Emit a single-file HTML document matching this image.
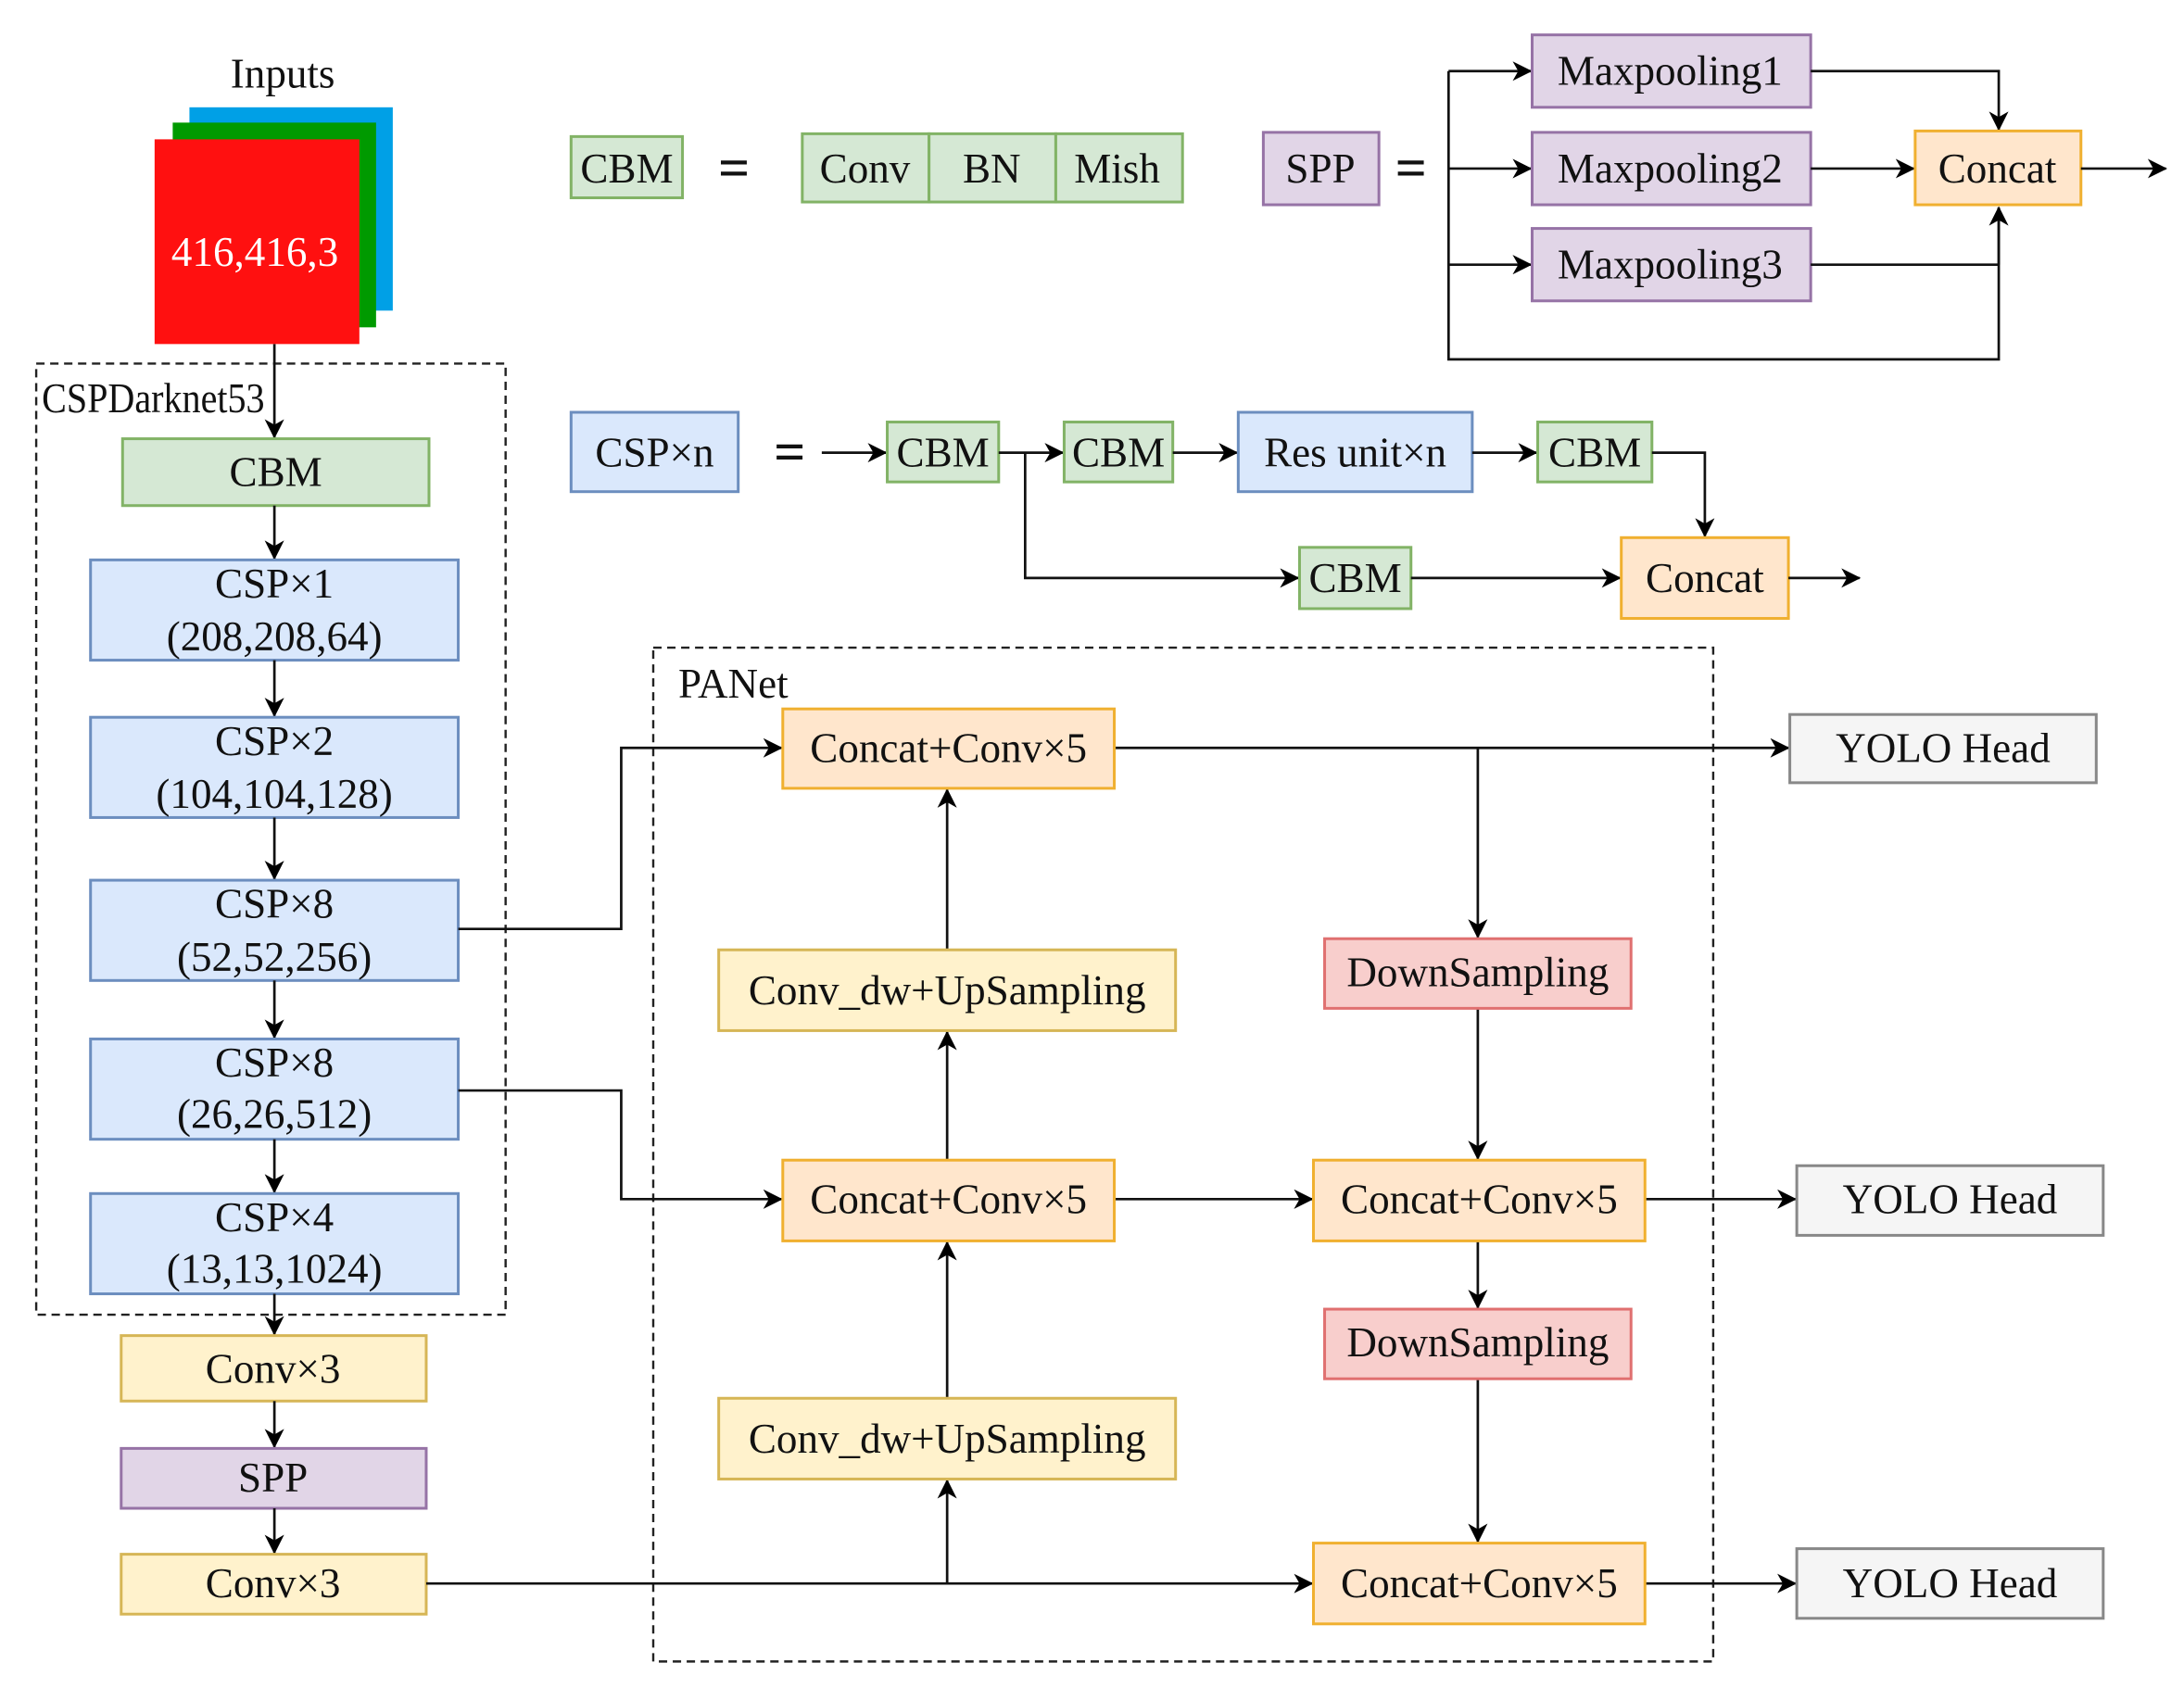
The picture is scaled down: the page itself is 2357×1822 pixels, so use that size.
<!DOCTYPE html>
<html><head><meta charset="utf-8"><style>html,body{margin:0;padding:0;background:#fff}svg{display:block}</style></head><body>
<svg width="2357" height="1822" viewBox="0 0 1568 1212" xmlns="http://www.w3.org/2000/svg" font-family="Liberation Serif, serif">
<defs><marker id="a" markerWidth="14" markerHeight="14" refX="13" refY="7" orient="auto" markerUnits="userSpaceOnUse"><path d="M0,0 L14,7 L0,14 L4,7 z" fill="#000"/></marker></defs>
<style>
.g{fill:#d5e8d4;stroke:#82b366;stroke-width:2}
.b{fill:#dae8fc;stroke:#6c8ebf;stroke-width:2}
.y{fill:#fff2cc;stroke:#d6b656;stroke-width:2}
.p{fill:#e1d5e7;stroke:#9673a6;stroke-width:2}
.o{fill:#ffe6cc;stroke:#f0b030;stroke-width:2}
.r{fill:#f8cecc;stroke:#e07070;stroke-width:2}
.h{fill:#f5f5f5;stroke:#888;stroke-width:2}
.l{fill:none;stroke:#111;stroke-width:1.8}
.la{fill:none;stroke:#111;stroke-width:1.8;marker-end:url(#a)}
.d{fill:none;stroke:#222;stroke-width:1.6;stroke-dasharray:6,4}
text{font-size:30px;text-anchor:middle;dominant-baseline:central;fill:#111}
.eq{font-size:40px;font-weight:bold}
</style>
<text x="203" y="53" font-size="26">Inputs</text>
<rect x="136" y="77" width="146" height="146" fill="#00a0e6"/>
<rect x="124" y="88" width="146" height="147" fill="#009a00"/>
<rect x="111" y="100" width="147" height="147" fill="#ff1010"/>
<text x="183" y="181" font-size="25" style="fill:#fff">416,416,3</text>

<rect class="d" x="26" y="261" width="337" height="683"/>
<text x="30" y="286" font-size="23" textLength="160" lengthAdjust="spacingAndGlyphs" style="text-anchor:start">CSPDarknet53</text>
<path class="la" d="M197,247V314"/>
<rect class="g" x="88" y="315" width="220" height="48"/><text x="198" y="339">CBM</text>
<path class="la" d="M197,363V401"/>
<rect class="b" x="65" y="402" width="264" height="72"/><text x="197" y="419">CSP×1</text><text x="197" y="457">(208,208,64)</text>
<path class="la" d="M197,474V514"/>
<rect class="b" x="65" y="515" width="264" height="72"/><text x="197" y="532">CSP×2</text><text x="197" y="570">(104,104,128)</text>
<path class="la" d="M197,587V631"/>
<rect class="b" x="65" y="632" width="264" height="72"/><text x="197" y="649">CSP×8</text><text x="197" y="687">(52,52,256)</text>
<path class="la" d="M197,704V745"/>
<rect class="b" x="65" y="746" width="264" height="72"/><text x="197" y="763">CSP×8</text><text x="197" y="800">(26,26,512)</text>
<path class="la" d="M197,818V856"/>
<rect class="b" x="65" y="857" width="264" height="72"/><text x="197" y="874">CSP×4</text><text x="197" y="911">(13,13,1024)</text>
<path class="la" d="M197,929V958"/>
<rect class="y" x="87" y="959" width="219" height="47"/><text x="196" y="983">Conv×3</text>
<path class="la" d="M197,1006V1039"/>
<rect class="p" x="87" y="1040" width="219" height="43"/><text x="196" y="1061">SPP</text>
<path class="la" d="M197,1083V1115"/>
<rect class="y" x="87" y="1116" width="219" height="43"/><text x="196" y="1137">Conv×3</text>

<rect class="g" x="410" y="98" width="80" height="44"/><text x="450" y="121">CBM</text>
<text x="527" y="121" class="eq">=</text>
<rect class="g" x="576" y="96" width="91" height="49"/><text x="621" y="121">Conv</text>
<rect class="g" x="667" y="96" width="91" height="49"/><text x="712" y="121">BN</text>
<rect class="g" x="758" y="96" width="91" height="49"/><text x="802" y="121">Mish</text>
<rect class="p" x="907" y="95" width="83" height="52"/><text x="948" y="121">SPP</text>
<text x="1013" y="121" class="eq">=</text>
<path class="l" d="M1040,51V258H1435V149"/>
<path class="la" d="M1040,51H1099"/><path class="la" d="M1040,121H1099"/><path class="la" d="M1040,190H1099"/>
<rect class="p" x="1100" y="25" width="200" height="52"/><text x="1199" y="51">Maxpooling1</text>
<rect class="p" x="1100" y="95" width="200" height="52"/><text x="1199" y="121">Maxpooling2</text>
<rect class="p" x="1100" y="164" width="200" height="52"/><text x="1199" y="190">Maxpooling3</text>
<path class="la" d="M1300,51H1435V93"/><path class="la" d="M1300,121H1374"/><path class="l" d="M1300,190H1435"/>
<path class="la" d="M1435,190V149"/>
<rect class="o" x="1375" y="94" width="119" height="53"/><text x="1434" y="121">Concat</text>
<path class="la" d="M1494,121H1555"/>

<rect class="b" x="410" y="296" width="120" height="57"/><text x="470" y="325">CSP×n</text>
<text x="567" y="325" class="eq">=</text>
<path class="la" d="M590,325H636"/>
<rect class="g" x="637" y="303" width="80" height="43"/><text x="677" y="325">CBM</text>
<path class="la" d="M717,325H763"/>
<rect class="g" x="764" y="303" width="78" height="43"/><text x="803" y="325">CBM</text>
<path class="la" d="M842,325H888"/>
<rect class="b" x="889" y="296" width="168" height="57"/><text x="973" y="325">Res unit×n</text>
<path class="la" d="M1057,325H1103"/>
<rect class="g" x="1104" y="303" width="82" height="43"/><text x="1145" y="325">CBM</text>
<path class="la" d="M1186,325H1224V385"/>
<path class="la" d="M736,325V415H932"/>
<rect class="g" x="933" y="393" width="80" height="44"/><text x="973" y="415">CBM</text>
<path class="la" d="M1013,415H1163"/>
<rect class="o" x="1164" y="386" width="120" height="58"/><text x="1224" y="415">Concat</text>
<path class="la" d="M1284,415H1335"/>

<rect class="d" x="469" y="465" width="761" height="728"/>
<text x="487" y="491" font-size="23" style="text-anchor:start">PANet</text>
<path class="la" d="M329,667H446V537H561"/>
<path class="la" d="M329,783H446V861H561"/>
<path class="la" d="M306,1137H942"/>
<path class="la" d="M680,1137V1063"/>
<path class="la" d="M680,1004V892"/>
<path class="la" d="M680,833V741"/>
<path class="la" d="M680,682V567"/>
<path class="la" d="M800,537H1284"/>
<path class="la" d="M1061,537V673"/>
<path class="la" d="M1061,724V832"/>
<path class="la" d="M800,861H942"/>
<path class="la" d="M1181,861H1289"/>
<path class="la" d="M1061,891V939"/>
<path class="la" d="M1061,990V1107"/>
<path class="la" d="M1181,1137H1289"/>
<rect class="o" x="562" y="509" width="238" height="57"/><text x="681" y="537">Concat+Conv×5</text>
<rect class="y" x="516" y="682" width="328" height="58"/><text x="680" y="711">Conv_dw+UpSampling</text>
<rect class="o" x="562" y="833" width="238" height="58"/><text x="681" y="861">Concat+Conv×5</text>
<rect class="y" x="516" y="1004" width="328" height="58"/><text x="680" y="1033">Conv_dw+UpSampling</text>
<rect class="r" x="951" y="674" width="220" height="50"/><text x="1061" y="698">DownSampling</text>
<rect class="o" x="943" y="833" width="238" height="58"/><text x="1062" y="861">Concat+Conv×5</text>
<rect class="r" x="951" y="940" width="220" height="50"/><text x="1061" y="964">DownSampling</text>
<rect class="o" x="943" y="1108" width="238" height="58"/><text x="1062" y="1137">Concat+Conv×5</text>
<rect class="h" x="1285" y="513" width="220" height="49"/><text x="1395" y="537">YOLO Head</text>
<rect class="h" x="1290" y="837" width="220" height="50"/><text x="1400" y="861">YOLO Head</text>
<rect class="h" x="1290" y="1112" width="220" height="50"/><text x="1400" y="1137">YOLO Head</text>
</svg>
</body></html>
